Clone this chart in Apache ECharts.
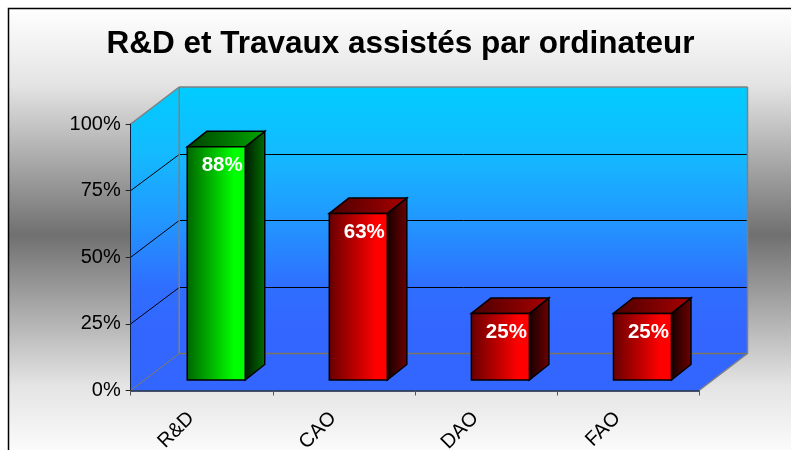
<!DOCTYPE html>
<html><head><meta charset="utf-8">
<style>html,body{margin:0;padding:0;background:#fff}#c{width:791px;height:450px}</style>
<script src="https://cdn.jsdelivr.net/npm/echarts@6/dist/echarts.min.js"></script>
</head><body><div id="c"></div>
<script>
const titleText = 'R&D et Travaux assistés par ordinateur';
const categories = ['R&D', 'CAO', 'DAO', 'FAO'];
const values = [87.5, 62.5, 25, 25];
const yTicks = [0, 25, 50, 75, 100];
const barKinds = ['green', 'red', 'red', 'red'];

const palettes = {
  green: {front: ['#006400', '#00ff00'], side: ['#001800', '#007000'], top: ['#004000', '#00a800']},
  red: {front: ['#660000', '#ff0000'], side: ['#140000', '#700000'], top: ['#4a0000', '#aa0000']}
};
const wallDx = 48.5, wallDy = 37;
const barDx = 19.5, barDy = 15.5, barOffX = 14.5, barOffY = 10.5, barW = 58;
const hGrad = c => new echarts.graphic.LinearGradient(0, 0, 1, 0, [{offset: 0, color: c[0]}, {offset: 0.8, color: c[1]}, {offset: 1, color: c[1]}]);
const plain = c => new echarts.graphic.LinearGradient(0, 0, 1, 0, [{offset: 0, color: c[0]}, {offset: 1, color: c[1]}]);

function renderWalls(params, api) {
  const g = params.coordSys;
  const x0 = g.x, x1 = g.x + g.width, yT = g.y, yB = g.y + g.height;
  const fill = new echarts.graphic.LinearGradient(0, yT - wallDy, 0, yB, [
    {offset: 0, color: '#00ccff'}, {offset: 0.22, color: '#14baff'}, {offset: 0.445, color: '#2296ff'}, {offset: 0.66, color: '#2f6eff'}, {offset: 0.8, color: '#3366ff'}, {offset: 1, color: '#3366ff'}], true);
  const gray = {stroke: '#808080', lineWidth: 1.5, fill: null};
  const ch = [];
  const poly = (pts, style) => ch.push({type: 'polygon', shape: {points: pts}, style});
  const line = (a, b, style) => ch.push({type: 'line', shape: {x1: a[0], y1: a[1], x2: b[0], y2: b[1]}, style});
  poly([[x0, yT], [x0 + wallDx, yT - wallDy], [x0 + wallDx, yB - wallDy], [x0, yB]], {fill});
  poly([[x0 + wallDx, yT - wallDy], [x1 + wallDx, yT - wallDy], [x1 + wallDx, yB - wallDy], [x0 + wallDx, yB - wallDy]], {fill});
  poly([[x0, yB], [x0 + wallDx, yB - wallDy], [x1 + wallDx, yB - wallDy], [x1, yB]], {fill: '#3366ff'});
  yTicks.slice(1, -1).forEach(t => {
    const y = api.coord([0, t])[1];
    const yBack = Math.round(y - wallDy) + 0.5;
    const s = {stroke: '#000', lineWidth: 1};
    line([x0, y], [x0 + wallDx, yBack], s);
    line([x0 + wallDx, yBack], [x1 + wallDx, yBack], s);
  });
  line([x0, yT], [x0 + wallDx, yT - wallDy], gray);
  line([x0 + wallDx, yT - wallDy], [x1 + wallDx, yT - wallDy], gray);
  line([x0 + wallDx, yT - wallDy], [x0 + wallDx, yB - wallDy], gray);
  line([x1 + wallDx, yT - wallDy], [x1 + wallDx, yB - wallDy], gray);
  line([x0 + wallDx, yB - wallDy], [x1 + wallDx, yB - wallDy], {stroke: '#7a7460', lineWidth: 1.5});
  line([x0, yB], [x0 + wallDx, yB - wallDy], {stroke: '#7a7460', lineWidth: 1});
  line([x1, yB], [x1 + wallDx, yB - wallDy], gray);
  return {type: 'group', children: ch};
}

function renderBar(params, api) {
  const i = api.value(0), v = api.value(1);
  const top = api.coord([i, v]), base = api.coord([i, 0]);
  const xl = top[0] + barOffX - barW / 2, xr = xl + barW;
  const yt = top[1] - barOffY, yb = base[1] - barOffY;
  const p = palettes[barKinds[i]];
  const edge = {stroke: '#000', lineWidth: 1.5, lineJoin: 'miter'};
  return {type: 'group', children: [
    {type: 'polygon', shape: {points: [[xr, yt], [xr + barDx, yt - barDy], [xr + barDx, yb - barDy], [xr, yb]]}, style: {fill: plain(p.side), ...edge}},
    {type: 'polygon', shape: {points: [[xl, yt], [xl + barDx, yt - barDy], [xr + barDx, yt - barDy], [xr, yt]]}, style: {fill: plain(p.top), ...edge}},
    {type: 'rect', shape: {x: xl, y: yt, width: barW, height: yb - yt}, style: {fill: hGrad(p.front), ...edge}},
    {type: 'text', style: {x: xl + barW / 2 + 6, y: yt + 18.5, text: Math.round(v) + '%', fill: '#fff', font: 'bold 20.5px "Liberation Sans"', align: 'center', verticalAlign: 'middle'}}
  ]};
}

const chart = echarts.init(document.getElementById('c'), null, {renderer: 'canvas'});
chart.setOption({
  animation: false,
  backgroundColor: '#fff',
  textStyle: {fontFamily: '"Liberation Sans"'},
  title: {text: titleText, left: 395.5, top: 23, textAlign: 'center',
    textStyle: {fontFamily: '"Liberation Sans"', fontWeight: 'bold', fontSize: 31.5, color: '#000'}},
  graphic: [{type: 'rect', z: -10, shape: {x: 8.5, y: 8.5, width: 800, height: 453},
    style: {stroke: '#000', lineWidth: 1.5,
      fill: new echarts.graphic.LinearGradient(0, 0, 0, 1, [{offset: 0, color: '#ffffff'}, {offset: 0.169, color: '#e4e4e4'}, {offset: 0.5, color: '#707070'}, {offset: 0.831, color: '#e4e4e4'}, {offset: 1, color: '#ffffff'}])}}],
  grid: {left: 130.7, top: 124, width: 568.3, height: 266.5, outerBoundsMode: 'none'},
  xAxis: {type: 'category', data: categories, z: 5,
    axisLine: {lineStyle: {color: '#102040', width: 1.5}},
    axisTick: {show: true, length: 5, lineStyle: {color: '#555'}},
    axisLabel: {rotate: 45, fontSize: 20, color: '#000', margin: 14, padding: [0, 15, 0, 0], interval: 0, fontFamily: '"Liberation Sans"'}},
  yAxis: {type: 'value', min: 0, max: 100, interval: 25, z: 5,
    axisLine: {show: true, lineStyle: {color: '#102040', width: 1}},
    axisTick: {show: true, length: 5, lineStyle: {color: '#222'}},
    splitLine: {show: false},
    axisLabel: {formatter: '{value}%', fontSize: 20, color: '#000', margin: 10, padding: [2, 0, 0, 0], fontFamily: '"Liberation Sans"'}},
  series: [
    {type: 'custom', z: 1, silent: true, clip: false, data: [[0, 0]], renderItem: renderWalls},
    {type: 'custom', z: 3, silent: true, clip: false, data: values.map((v, i) => [i, v]), encode: {x: 0, y: 1}, renderItem: renderBar}
  ]
});
</script></body></html>
